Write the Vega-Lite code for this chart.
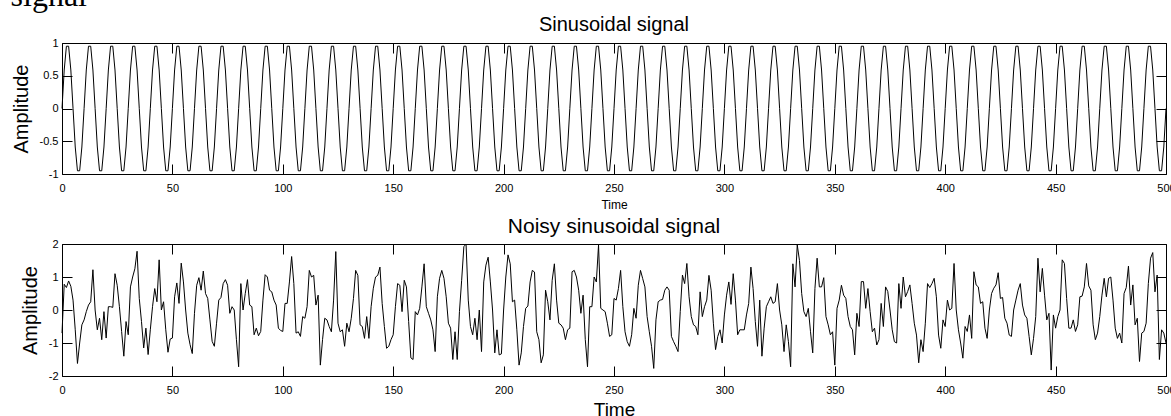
{
"$schema": "https://vega.github.io/schema/vega-lite/v6.json",
"padding": {"left": 10, "top": -21, "right": 0, "bottom": 0},
"title": {"text": "signal", "anchor": "start", "frame": "bounds", "font": "Liberation Serif", "fontSize": 32, "fontWeight": "normal", "color": "black", "offset": 2},
"data": {"values": [
{"t":0,"s":0,"n":-0.7},{"t":1,"s":0.588,"n":0.78},{"t":2,"s":0.951,"n":0.68},{"t":3,"s":0.951,"n":0.88},{"t":4,"s":0.588,"n":0.72},{"t":5,"s":0,"n":0.3},{"t":6,"s":-0.588,"n":-0.6},{"t":7,"s":-0.951,"n":-1.62},{"t":8,"s":-0.951,"n":-1.0},{"t":9,"s":-0.588,"n":-0.45},
{"t":10,"s":0,"n":-0.3},{"t":11,"s":0.588,"n":-0.05},{"t":12,"s":0.951,"n":0.15},{"t":13,"s":0.951,"n":0.25},{"t":14,"s":0.588,"n":1.22},{"t":15,"s":0,"n":0.0},{"t":16,"s":-0.588,"n":-0.6},{"t":17,"s":-0.951,"n":-0.25},{"t":18,"s":-0.951,"n":-0.9},{"t":19,"s":-0.588,"n":-0.05},
{"t":20,"s":0,"n":-0.85},{"t":21,"s":0.588,"n":0.1},{"t":22,"s":0.951,"n":0.1},{"t":23,"s":0.951,"n":0.08},{"t":24,"s":0.588,"n":1.1},{"t":25,"s":0,"n":0.75},{"t":26,"s":-0.588,"n":0.1},{"t":27,"s":-0.951,"n":-0.65},{"t":28,"s":-0.951,"n":-1.4},{"t":29,"s":-0.588,"n":-0.35},
{"t":30,"s":0,"n":-0.75},{"t":31,"s":0.588,"n":0.7},{"t":32,"s":0.951,"n":1.0},{"t":33,"s":0.951,"n":1.25},{"t":34,"s":0.588,"n":1.78},{"t":35,"s":0,"n":0.35},{"t":36,"s":-0.588,"n":-0.35},{"t":37,"s":-0.951,"n":-1.15},{"t":38,"s":-0.951,"n":-0.55},{"t":39,"s":-0.588,"n":-1.35},
{"t":40,"s":0,"n":-0.6},{"t":41,"s":0.588,"n":0.1},{"t":42,"s":0.951,"n":0.65},{"t":43,"s":0.951,"n":0.25},{"t":44,"s":0.588,"n":1.52},{"t":45,"s":0,"n":0.0},{"t":46,"s":-0.588,"n":0.25},{"t":47,"s":-0.951,"n":-0.6},{"t":48,"s":-0.951,"n":-1.28},{"t":49,"s":-0.588,"n":-0.88},
{"t":50,"s":0,"n":-0.85},{"t":51,"s":0.588,"n":0.4},{"t":52,"s":0.951,"n":0.82},{"t":53,"s":0.951,"n":0.2},{"t":54,"s":0.588,"n":1.42},{"t":55,"s":0,"n":0.85},{"t":56,"s":-0.588,"n":0.0},{"t":57,"s":-0.951,"n":-0.7},{"t":58,"s":-0.951,"n":-1.05},{"t":59,"s":-0.588,"n":-1.32},
{"t":60,"s":0,"n":-0.1},{"t":61,"s":0.588,"n":0.75},{"t":62,"s":0.951,"n":0.98},{"t":63,"s":0.951,"n":0.6},{"t":64,"s":0.588,"n":1.18},{"t":65,"s":0,"n":0.5},{"t":66,"s":-0.588,"n":0.35},{"t":67,"s":-0.951,"n":-0.3},{"t":68,"s":-0.951,"n":-0.95},{"t":69,"s":-0.588,"n":-1.1},
{"t":70,"s":0,"n":-0.4},{"t":71,"s":0.588,"n":0.3},{"t":72,"s":0.951,"n":0.38},{"t":73,"s":0.951,"n":0.8},{"t":74,"s":0.588,"n":0.92},{"t":75,"s":0,"n":0.75},{"t":76,"s":-0.588,"n":-0.1},{"t":77,"s":-0.951,"n":0.1},{"t":78,"s":-0.951,"n":0.0},{"t":79,"s":-0.588,"n":-0.9},
{"t":80,"s":0,"n":-1.72},{"t":81,"s":0.588,"n":0.8},{"t":82,"s":0.951,"n":0.0},{"t":83,"s":0.951,"n":0.5},{"t":84,"s":0.588,"n":0.92},{"t":85,"s":0,"n":0.15},{"t":86,"s":-0.588,"n":0.1},{"t":87,"s":-0.951,"n":-0.75},{"t":88,"s":-0.951,"n":-0.55},{"t":89,"s":-0.588,"n":-0.78},
{"t":90,"s":0,"n":-0.65},{"t":91,"s":0.588,"n":0.3},{"t":92,"s":0.951,"n":1.07},{"t":93,"s":0.951,"n":1.0},{"t":94,"s":0.588,"n":0.6},{"t":95,"s":0,"n":0.55},{"t":96,"s":-0.588,"n":0.3},{"t":97,"s":-0.951,"n":0.15},{"t":98,"s":-0.951,"n":-0.55},{"t":99,"s":-0.588,"n":-0.62},
{"t":100,"s":0,"n":-0.65},{"t":101,"s":0.588,"n":0.2},{"t":102,"s":0.951,"n":0.2},{"t":103,"s":0.951,"n":0.85},{"t":104,"s":0.588,"n":1.62},{"t":105,"s":0,"n":0.8},{"t":106,"s":-0.588,"n":-0.7},{"t":107,"s":-0.951,"n":-0.66},{"t":108,"s":-0.951,"n":-0.8},{"t":109,"s":-0.588,"n":-0.2},
{"t":110,"s":0,"n":-0.25},{"t":111,"s":0.588,"n":0.1},{"t":112,"s":0.951,"n":1.2},{"t":113,"s":0.951,"n":1.0},{"t":114,"s":0.588,"n":1.05},{"t":115,"s":0,"n":0.15},{"t":116,"s":-0.588,"n":0.45},{"t":117,"s":-0.951,"n":-1.67},{"t":118,"s":-0.951,"n":-0.9},{"t":119,"s":-0.588,"n":-0.25},
{"t":120,"s":0,"n":-0.3},{"t":121,"s":0.588,"n":-0.5},{"t":122,"s":0.951,"n":-0.66},{"t":123,"s":0.951,"n":0.3},{"t":124,"s":0.588,"n":1.77},{"t":125,"s":0,"n":-0.4},{"t":126,"s":-0.588,"n":-0.66},{"t":127,"s":-0.951,"n":-0.6},{"t":128,"s":-0.951,"n":-1.1},{"t":129,"s":-0.588,"n":-0.4},
{"t":130,"s":0,"n":-0.66},{"t":131,"s":0.588,"n":-0.25},{"t":132,"s":0.951,"n":0.35},{"t":133,"s":0.951,"n":1.2},{"t":134,"s":0.588,"n":1.05},{"t":135,"s":0,"n":-0.45},{"t":136,"s":-0.588,"n":-0.5},{"t":137,"s":-0.951,"n":-0.86},{"t":138,"s":-0.951,"n":-0.2},{"t":139,"s":-0.588,"n":-0.86},
{"t":140,"s":0,"n":0.1},{"t":141,"s":0.588,"n":0.66},{"t":142,"s":0.951,"n":1.0},{"t":143,"s":0.951,"n":1.05},{"t":144,"s":0.588,"n":1.3},{"t":145,"s":0,"n":0.2},{"t":146,"s":-0.588,"n":-0.5},{"t":147,"s":-0.951,"n":-1.16},{"t":148,"s":-0.951,"n":-1.1},{"t":149,"s":-0.588,"n":-0.9},
{"t":150,"s":0,"n":-0.75},{"t":151,"s":0.588,"n":0.1},{"t":152,"s":0.951,"n":0.8},{"t":153,"s":0.951,"n":0.75},{"t":154,"s":0.588,"n":-0.05},{"t":155,"s":0,"n":0.9},{"t":156,"s":-0.588,"n":0.7},{"t":157,"s":-0.951,"n":-0.35},{"t":158,"s":-0.951,"n":-1.45},{"t":159,"s":-0.588,"n":-1.5},
{"t":160,"s":0,"n":-0.05},{"t":161,"s":0.588,"n":-0.15},{"t":162,"s":0.951,"n":0.05},{"t":163,"s":0.951,"n":0.7},{"t":164,"s":0.588,"n":1.4},{"t":165,"s":0,"n":0.1},{"t":166,"s":-0.588,"n":-0.1},{"t":167,"s":-0.951,"n":-0.3},{"t":168,"s":-0.951,"n":-0.6},{"t":169,"s":-0.588,"n":-1.26},
{"t":170,"s":0,"n":0.4},{"t":171,"s":0.588,"n":0.96},{"t":172,"s":0.951,"n":1.2},{"t":173,"s":0.951,"n":0.96},{"t":174,"s":0.588,"n":0.4},{"t":175,"s":0,"n":-0.4},{"t":176,"s":-0.588,"n":-0.55},{"t":177,"s":-0.951,"n":-1.5},{"t":178,"s":-0.951,"n":-0.66},{"t":179,"s":-0.588,"n":-1.5},
{"t":180,"s":0,"n":-0.05},{"t":181,"s":0.588,"n":0.9},{"t":182,"s":0.951,"n":1.92},{"t":183,"s":0.951,"n":2.0},{"t":184,"s":0.588,"n":0.3},{"t":185,"s":0,"n":-0.5},{"t":186,"s":-0.588,"n":-0.75},{"t":187,"s":-0.951,"n":-0.25},{"t":188,"s":-0.951,"n":-0.9},{"t":189,"s":-0.588,"n":0.0},
{"t":190,"s":0,"n":-1.26},{"t":191,"s":0.588,"n":0.85},{"t":192,"s":0.951,"n":1.36},{"t":193,"s":0.951,"n":1.6},{"t":194,"s":0.588,"n":0.85},{"t":195,"s":0,"n":0.0},{"t":196,"s":-0.588,"n":-1.3},{"t":197,"s":-0.951,"n":-0.6},{"t":198,"s":-0.951,"n":-1.36},{"t":199,"s":-0.588,"n":-1.33},
{"t":200,"s":0,"n":0.0},{"t":201,"s":0.588,"n":1.0},{"t":202,"s":0.951,"n":1.67},{"t":203,"s":0.951,"n":1.4},{"t":204,"s":0.588,"n":0.25},{"t":205,"s":0,"n":0.3},{"t":206,"s":-0.588,"n":-0.6},{"t":207,"s":-0.951,"n":-1.67},{"t":208,"s":-0.951,"n":-1.3},{"t":209,"s":-0.588,"n":-0.5},
{"t":210,"s":0,"n":0.05},{"t":211,"s":0.588,"n":0.12},{"t":212,"s":0.951,"n":0.85},{"t":213,"s":0.951,"n":1.2},{"t":214,"s":0.588,"n":1.15},{"t":215,"s":0,"n":-0.66},{"t":216,"s":-0.588,"n":-0.9},{"t":217,"s":-0.951,"n":-1.6},{"t":218,"s":-0.951,"n":-1.36},{"t":219,"s":-0.588,"n":0.6},
{"t":220,"s":0,"n":0.25},{"t":221,"s":0.588,"n":-0.3},{"t":222,"s":0.951,"n":0.9},{"t":223,"s":0.951,"n":1.4},{"t":224,"s":0.588,"n":0.3},{"t":225,"s":0,"n":-0.4},{"t":226,"s":-0.588,"n":-0.45},{"t":227,"s":-0.951,"n":-0.55},{"t":228,"s":-0.951,"n":-0.9},{"t":229,"s":-0.588,"n":-0.6},
{"t":230,"s":0,"n":-0.55},{"t":231,"s":0.588,"n":1.16},{"t":232,"s":0.951,"n":1.2},{"t":233,"s":0.951,"n":1.0},{"t":234,"s":0.588,"n":0.6},{"t":235,"s":0,"n":-0.1},{"t":236,"s":-0.588,"n":0.45},{"t":237,"s":-0.951,"n":-0.9},{"t":238,"s":-0.951,"n":-1.72},{"t":239,"s":-0.588,"n":0.1},
{"t":240,"s":0,"n":0.1},{"t":241,"s":0.588,"n":1.0},{"t":242,"s":0.951,"n":0.85},{"t":243,"s":0.951,"n":1.97},{"t":244,"s":0.588,"n":0.05},{"t":245,"s":0,"n":0.0},{"t":246,"s":-0.588,"n":-0.05},{"t":247,"s":-0.951,"n":-0.4},{"t":248,"s":-0.951,"n":-0.8},{"t":249,"s":-0.588,"n":-0.75},
{"t":250,"s":0,"n":0.35},{"t":251,"s":0.588,"n":0.3},{"t":252,"s":0.951,"n":0.65},{"t":253,"s":0.951,"n":1.2},{"t":254,"s":0.588,"n":0.1},{"t":255,"s":0,"n":-0.66},{"t":256,"s":-0.588,"n":-0.96},{"t":257,"s":-0.951,"n":-1.1},{"t":258,"s":-0.951,"n":-0.75},{"t":259,"s":-0.588,"n":0.05},
{"t":260,"s":0,"n":-0.25},{"t":261,"s":0.588,"n":0.75},{"t":262,"s":0.951,"n":1.2},{"t":263,"s":0.951,"n":0.95},{"t":264,"s":0.588,"n":0.7},{"t":265,"s":0,"n":-0.2},{"t":266,"s":-0.588,"n":-0.66},{"t":267,"s":-0.951,"n":-1.1},{"t":268,"s":-0.951,"n":-1.77},{"t":269,"s":-0.588,"n":-0.3},
{"t":270,"s":0,"n":0.25},{"t":271,"s":0.588,"n":0.3},{"t":272,"s":0.951,"n":0.32},{"t":273,"s":0.951,"n":0.6},{"t":274,"s":0.588,"n":0.7},{"t":275,"s":0,"n":0.6},{"t":276,"s":-0.588,"n":-0.8},{"t":277,"s":-0.951,"n":-0.96},{"t":278,"s":-0.951,"n":-1.1},{"t":279,"s":-0.588,"n":-1.26},
{"t":280,"s":0,"n":-0.05},{"t":281,"s":0.588,"n":1.06},{"t":282,"s":0.951,"n":0.8},{"t":283,"s":0.951,"n":1.41},{"t":284,"s":0.588,"n":0.4},{"t":285,"s":0,"n":-0.2},{"t":286,"s":-0.588,"n":-0.45},{"t":287,"s":-0.951,"n":-0.5},{"t":288,"s":-0.951,"n":-0.75},{"t":289,"s":-0.588,"n":0.55},
{"t":290,"s":0,"n":-0.2},{"t":291,"s":0.588,"n":0.1},{"t":292,"s":0.951,"n":0.3},{"t":293,"s":0.951,"n":1.05},{"t":294,"s":0.588,"n":0.6},{"t":295,"s":0,"n":-0.4},{"t":296,"s":-0.588,"n":-1.2},{"t":297,"s":-0.951,"n":-0.8},{"t":298,"s":-0.951,"n":-0.6},{"t":299,"s":-0.588,"n":-1.0},
{"t":300,"s":0,"n":-0.15},{"t":301,"s":0.588,"n":0.45},{"t":302,"s":0.951,"n":0.85},{"t":303,"s":0.951,"n":0.17},{"t":304,"s":0.588,"n":1.1},{"t":305,"s":0,"n":0.3},{"t":306,"s":-0.588,"n":-0.75},{"t":307,"s":-0.951,"n":-0.6},{"t":308,"s":-0.951,"n":-0.6},{"t":309,"s":-0.588,"n":-0.6},
{"t":310,"s":0,"n":-0.15},{"t":311,"s":0.588,"n":0.2},{"t":312,"s":0.951,"n":1.3},{"t":313,"s":0.951,"n":0.65},{"t":314,"s":0.588,"n":-0.35},{"t":315,"s":0,"n":-1.1},{"t":316,"s":-0.588,"n":0.3},{"t":317,"s":-0.951,"n":-1.4},{"t":318,"s":-0.951,"n":-0.55},{"t":319,"s":-0.588,"n":0.1},
{"t":320,"s":0,"n":0.25},{"t":321,"s":0.588,"n":0.4},{"t":322,"s":0.951,"n":0.2},{"t":323,"s":0.951,"n":0.25},{"t":324,"s":0.588,"n":0.8},{"t":325,"s":0,"n":0.0},{"t":326,"s":-0.588,"n":-0.45},{"t":327,"s":-0.951,"n":-1.26},{"t":328,"s":-0.951,"n":-0.45},{"t":329,"s":-0.588,"n":-0.96},
{"t":330,"s":0,"n":-1.72},{"t":331,"s":0.588,"n":1.4},{"t":332,"s":0.951,"n":0.7},{"t":333,"s":0.951,"n":1.97},{"t":334,"s":0.588,"n":1.5},{"t":335,"s":0,"n":0.5},{"t":336,"s":-0.588,"n":-0.05},{"t":337,"s":-0.951,"n":-0.2},{"t":338,"s":-0.951,"n":0.05},{"t":339,"s":-0.588,"n":-0.66},
{"t":340,"s":0,"n":-1.3},{"t":341,"s":0.588,"n":0.65},{"t":342,"s":0.951,"n":1.57},{"t":343,"s":0.951,"n":0.7},{"t":344,"s":0.588,"n":0.7},{"t":345,"s":0,"n":0.98},{"t":346,"s":-0.588,"n":-0.2},{"t":347,"s":-0.951,"n":-0.45},{"t":348,"s":-0.951,"n":-0.75},{"t":349,"s":-0.588,"n":-0.66},
{"t":350,"s":0,"n":-1.67},{"t":351,"s":0.588,"n":0.05},{"t":352,"s":0.951,"n":0.3},{"t":353,"s":0.951,"n":0.75},{"t":354,"s":0.588,"n":0.45},{"t":355,"s":0,"n":0.35},{"t":356,"s":-0.588,"n":-0.2},{"t":357,"s":-0.951,"n":-0.5},{"t":358,"s":-0.951,"n":-0.6},{"t":359,"s":-0.588,"n":-1.36},
{"t":360,"s":0,"n":-0.1},{"t":361,"s":0.588,"n":-0.5},{"t":362,"s":0.951,"n":0.86},{"t":363,"s":0.951,"n":0.86},{"t":364,"s":0.588,"n":0.05},{"t":365,"s":0,"n":0.65},{"t":366,"s":-0.588,"n":-0.05},{"t":367,"s":-0.951,"n":-0.66},{"t":368,"s":-0.951,"n":-0.55},{"t":369,"s":-0.588,"n":-1.06},
{"t":370,"s":0,"n":-0.9},{"t":371,"s":0.588,"n":0.2},{"t":372,"s":0.951,"n":-0.5},{"t":373,"s":0.951,"n":0.7},{"t":374,"s":0.588,"n":0.56},{"t":375,"s":0,"n":0.0},{"t":376,"s":-0.588,"n":-0.6},{"t":377,"s":-0.951,"n":-0.96},{"t":378,"s":-0.951,"n":-1.0},{"t":379,"s":-0.588,"n":0.8},
{"t":380,"s":0,"n":0.05},{"t":381,"s":0.588,"n":1.0},{"t":382,"s":0.951,"n":0.4},{"t":383,"s":0.951,"n":0.56},{"t":384,"s":0.588,"n":0.76},{"t":385,"s":0,"n":0.2},{"t":386,"s":-0.588,"n":-0.4},{"t":387,"s":-0.951,"n":-0.76},{"t":388,"s":-0.951,"n":-1.6},{"t":389,"s":-0.588,"n":-0.9},
{"t":390,"s":0,"n":-1.26},{"t":391,"s":0.588,"n":-0.4},{"t":392,"s":0.951,"n":0.8},{"t":393,"s":0.951,"n":0.68},{"t":394,"s":0.588,"n":0.8},{"t":395,"s":0,"n":0.96},{"t":396,"s":-0.588,"n":0.4},{"t":397,"s":-0.951,"n":-0.76},{"t":398,"s":-0.951,"n":-1.16},{"t":399,"s":-0.588,"n":-0.3},
{"t":400,"s":0,"n":-0.5},{"t":401,"s":0.588,"n":0.3},{"t":402,"s":0.951,"n":0.0},{"t":403,"s":0.951,"n":0.05},{"t":404,"s":0.588,"n":1.41},{"t":405,"s":0,"n":0.0},{"t":406,"s":-0.588,"n":-0.6},{"t":407,"s":-0.951,"n":-1.0},{"t":408,"s":-0.951,"n":-1.46},{"t":409,"s":-0.588,"n":-0.5},
{"t":410,"s":0,"n":-0.65},{"t":411,"s":0.588,"n":-0.15},{"t":412,"s":0.951,"n":-0.86},{"t":413,"s":0.951,"n":1.16},{"t":414,"s":0.588,"n":0.76},{"t":415,"s":0,"n":0.7},{"t":416,"s":-0.588,"n":0.2},{"t":417,"s":-0.951,"n":0.25},{"t":418,"s":-0.951,"n":-0.55},{"t":419,"s":-0.588,"n":-0.86},
{"t":420,"s":0,"n":0.0},{"t":421,"s":0.588,"n":0.5},{"t":422,"s":0.951,"n":0.66},{"t":423,"s":0.951,"n":0.76},{"t":424,"s":0.588,"n":1.13},{"t":425,"s":0,"n":0.35},{"t":426,"s":-0.588,"n":0.38},{"t":427,"s":-0.951,"n":-0.25},{"t":428,"s":-0.951,"n":-0.4},{"t":429,"s":-0.588,"n":-0.76},
{"t":430,"s":0,"n":-0.8},{"t":431,"s":0.588,"n":0.0},{"t":432,"s":0.951,"n":0.3},{"t":433,"s":0.951,"n":0.6},{"t":434,"s":0.588,"n":0.8},{"t":435,"s":0,"n":0.15},{"t":436,"s":-0.588,"n":-0.15},{"t":437,"s":-0.951,"n":-0.25},{"t":438,"s":-0.951,"n":-0.8},{"t":439,"s":-0.588,"n":-1.36},
{"t":440,"s":0,"n":-0.86},{"t":441,"s":0.588,"n":-0.2},{"t":442,"s":0.951,"n":1.57},{"t":443,"s":0.951,"n":0.55},{"t":444,"s":0.588,"n":1.26},{"t":445,"s":0,"n":0.45},{"t":446,"s":-0.588,"n":-0.3},{"t":447,"s":-0.951,"n":-0.1},{"t":448,"s":-0.951,"n":-1.82},{"t":449,"s":-0.588,"n":-0.15},
{"t":450,"s":0,"n":-0.55},{"t":451,"s":0.588,"n":-0.2},{"t":452,"s":0.951,"n":0.0},{"t":453,"s":0.951,"n":1.52},{"t":454,"s":0.588,"n":1.41},{"t":455,"s":0,"n":0.35},{"t":456,"s":-0.588,"n":-0.55},{"t":457,"s":-0.951,"n":-0.55},{"t":458,"s":-0.951,"n":-0.3},{"t":459,"s":-0.588,"n":-0.65},
{"t":460,"s":0,"n":-0.45},{"t":461,"s":0.588,"n":0.4},{"t":462,"s":0.951,"n":0.42},{"t":463,"s":0.951,"n":0.7},{"t":464,"s":0.588,"n":1.41},{"t":465,"s":0,"n":0.73},{"t":466,"s":-0.588,"n":0.6},{"t":467,"s":-0.951,"n":-0.45},{"t":468,"s":-0.951,"n":-0.9},{"t":469,"s":-0.588,"n":-0.7},
{"t":470,"s":0,"n":-0.2},{"t":471,"s":0.588,"n":0.45},{"t":472,"s":0.951,"n":0.96},{"t":473,"s":0.951,"n":0.4},{"t":474,"s":0.588,"n":0.96},{"t":475,"s":0,"n":1.0},{"t":476,"s":-0.588,"n":0.3},{"t":477,"s":-0.951,"n":-0.55},{"t":478,"s":-0.951,"n":-0.86},{"t":479,"s":-0.588,"n":-0.7},
{"t":480,"s":0,"n":-1.0},{"t":481,"s":0.588,"n":0.5},{"t":482,"s":0.951,"n":0.68},{"t":483,"s":0.951,"n":1.33},{"t":484,"s":0.588,"n":0.15},{"t":485,"s":0,"n":0.76},{"t":486,"s":-0.588,"n":-0.45},{"t":487,"s":-0.951,"n":-0.25},{"t":488,"s":-0.951,"n":-1.56},{"t":489,"s":-0.588,"n":-0.7},
{"t":490,"s":0,"n":-0.65},{"t":491,"s":0.588,"n":-0.4},{"t":492,"s":0.951,"n":0.8},{"t":493,"s":0.951,"n":1.57},{"t":494,"s":0.588,"n":1.74},{"t":495,"s":0,"n":0.55},{"t":496,"s":-0.588,"n":1.06},{"t":497,"s":-0.951,"n":-1.5},{"t":498,"s":-0.951,"n":-0.6},{"t":499,"s":-0.588,"n":-0.7},
{"t":500,"s":0,"n":-1.0}
]},
"spacing": 4,
"config": {
  "view": {"stroke": "black", "strokeWidth": 1},
  "axis": {"grid": false, "domain": false, "tickColor": "black", "tickSize": -10, "tickWidth": 1, "labelColor": "black", "labelFont": "Liberation Sans", "labelFontSize": 11, "titleFont": "Liberation Sans", "titleFontWeight": "normal", "titleColor": "black", "labelFlush": false, "labelOverlap": false},
  "axisX": {"labelPadding": 18},
  "axisY": {"labelPadding": 14},
  "title": {"font": "Liberation Sans", "fontWeight": "normal", "color": "black"}
},
"vconcat": [
  {
    "width": 1104, "height": 131,
    "title": {"text": "Sinusoidal signal", "fontSize": 20, "offset": 2},
    "layer": [
      {"mark": {"type": "line", "color": "black", "strokeWidth": 1},
       "encoding": {
         "x": {"field": "t", "type": "quantitative", "scale": {"domain": [0, 500], "nice": false, "zero": false},
               "axis": {"values": [0,50,100,150,200,250,300,350,400,450,500], "labelExpr": "toString(datum.value)", "title": "Time", "titleFontSize": 12, "titlePadding": 6}},
         "y": {"field": "s", "type": "quantitative", "scale": {"domain": [-1, 1], "nice": false},
               "axis": {"values": [-1,-0.5,0,0.5,1], "labelExpr": "toString(datum.value)", "title": "Amplitude", "titleFontSize": 20, "titlePadding": 8}}
       }},
      {"mark": {"type": "line", "opacity": 0},
       "encoding": {
         "x": {"field": "t", "type": "quantitative", "scale": {"domain": [0, 500], "nice": false, "zero": false},
               "axis": {"orient": "top", "values": [0,50,100,150,200,250,300,350,400,450,500], "labels": false, "title": null}},
         "y": {"field": "s", "type": "quantitative", "scale": {"domain": [-1, 1], "nice": false},
               "axis": {"orient": "right", "values": [-1,-0.5,0,0.5,1], "labels": false, "title": null}}
       }}
    ],
    "resolve": {"axis": {"x": "independent", "y": "independent"}}
  },
  {
    "width": 1104, "height": 132,
    "title": {"text": "Noisy sinusoidal signal", "fontSize": 21, "offset": 1},
    "layer": [
      {"mark": {"type": "line", "color": "black", "strokeWidth": 1},
       "encoding": {
         "x": {"field": "t", "type": "quantitative", "scale": {"domain": [0, 500], "nice": false, "zero": false},
               "axis": {"values": [0,50,100,150,200,250,300,350,400,450,500], "labelExpr": "toString(datum.value)", "title": "Time", "titleFontSize": 19, "titlePadding": 5}},
         "y": {"field": "n", "type": "quantitative", "scale": {"domain": [-2, 2], "nice": false},
               "axis": {"values": [-2,-1,0,1,2], "labelExpr": "toString(datum.value)", "title": "Amplitude", "titleFontSize": 20, "titlePadding": 8}}
       }},
      {"mark": {"type": "line", "opacity": 0},
       "encoding": {
         "x": {"field": "t", "type": "quantitative", "scale": {"domain": [0, 500], "nice": false, "zero": false},
               "axis": {"orient": "top", "values": [0,50,100,150,200,250,300,350,400,450,500], "labels": false, "title": null}},
         "y": {"field": "n", "type": "quantitative", "scale": {"domain": [-2, 2], "nice": false},
               "axis": {"orient": "right", "values": [-2,-1,0,1,2], "labels": false, "title": null}}
       }}
    ],
    "resolve": {"axis": {"x": "independent", "y": "independent"}}
  }
]
}
